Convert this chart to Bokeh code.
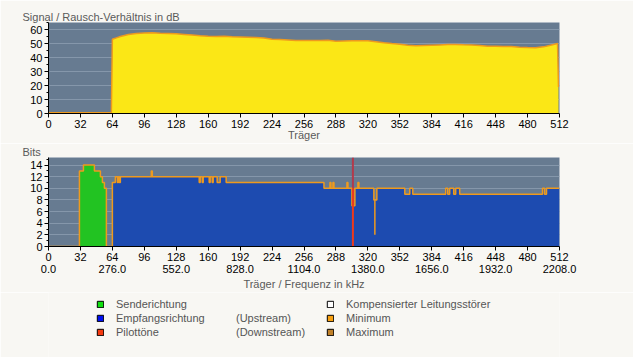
from bokeh.plotting import figure
from bokeh.layouts import column
from bokeh.models import (Range1d, FixedTicker, SingleIntervalTicker, LinearAxis,
                          Legend, LegendItem, Span, Div)
from bokeh.embed import file_html
from bokeh.resources import INLINE
import numpy as np

FONT = "Liberation Sans"
PAGE_BG = "#f8f7f3"
PLOT_BG = "#677b91"
GRID = "#8597ab"

# ---------------- data ----------------
carrier_ticks = [0, 32, 64, 96, 128, 160, 192, 224, 256, 288, 320, 352, 384, 416, 448, 480, 512]
freq_ticks = [0, 64, 128, 192, 256, 320, 384, 448, 512]
freq_labels = ["0.0", "276.0", "552.0", "828.0", "1104.0", "1380.0", "1656.0", "1932.0", "2208.0"]

# Signal / noise ratio (dB) per carrier
snr_carrier = [0, 63, 64, 68, 72, 80, 88, 96, 104, 112, 120, 128, 136, 144, 152, 160, 168, 176,
               184, 192, 200, 208, 216, 224, 232, 240, 248, 256, 264, 272, 280, 288, 296, 304,
               312, 320, 328, 336, 344, 352, 360, 368, 376, 384, 392, 400, 408, 416, 424, 432,
               440, 448, 456, 464, 472, 480, 488, 496, 504, 510, 511]
snr_db = [0.6, 0.6, 53.0, 54.0, 55.0, 56.5, 57.2, 57.5, 57.7, 57.3, 57.2, 57.0, 56.5, 56.0, 55.5,
          55.2, 55.0, 55.2, 54.8, 54.6, 54.4, 54.2, 54.0, 53.0, 52.8, 52.5, 52.2, 52.1, 52.1, 52.2,
          52.3, 51.6, 51.8, 52.0, 52.0, 51.9, 51.3, 50.6, 50.0, 49.5, 48.8, 48.4, 48.6, 48.8, 49.0,
          49.2, 49.3, 49.1, 49.0, 48.6, 48.1, 48.0, 47.9, 47.9, 47.4, 47.1, 47.0, 47.6, 49.0, 50.0, 19.0]

# Bits per carrier as steps: value holds from this carrier to the next start
bits_start = [0, 31, 35, 46, 52, 54, 56, 58, 64, 67, 69, 70, 71, 72, 103, 104, 151, 152, 154, 155,
              161, 162, 164, 165, 169, 172, 178, 276, 282, 283, 285, 286, 299, 300, 304, 307, 310,
              311, 326, 329, 357, 362, 365, 398, 400, 402, 406, 408, 412, 495, 497, 499, 511]
bits_value = [0, 13, 14, 13, 12, 11, 10, 0, 11, 12, 11, 12, 11, 12, 13, 12, 11, 12, 11, 12,
              11, 12, 11, 12, 11, 12, 11, 10, 11, 10, 11, 10, 11, 10, 7, 10, 11,
              10, 8, 10, 9, 10, 9, 10, 9, 10, 9, 10, 9, 10, 9, 10, 10]
carrier_end = 512
downstream_first = 64

pilot_carrier = [305]
pilot_bits = [10]
min_dip_carrier = [327]
min_dip_value = [2]

# -------------- helpers --------------
def style_axis(ax):
    ax.axis_line_color = "black"
    ax.major_tick_line_color = "black"
    ax.minor_tick_line_color = "black"
    ax.major_tick_in = 0
    ax.major_tick_out = 4
    ax.minor_tick_in = 0
    ax.minor_tick_out = 2
    ax.major_label_text_font = FONT
    ax.major_label_text_font_size = "11px"
    ax.major_label_text_color = "black"
    ax.axis_label_text_font = FONT
    ax.axis_label_text_font_size = "11px"
    ax.axis_label_text_color = "#5a5a5a"
    ax.axis_label_text_font_style = "normal"
    ax.major_label_standoff = 2
    ax.axis_label_standoff = -2


def base_fig(height, top, bottom, y_max, y_interval, title):
    p = figure(width=633, height=height, x_range=Range1d(0, 512), y_range=Range1d(0, y_max),
               output_backend="svg", toolbar_location=None, title=title,
               min_border_left=48, min_border_right=74, min_border_top=top, min_border_bottom=bottom)
    p.background_fill_color = PLOT_BG
    p.border_fill_color = PAGE_BG
    p.outline_line_color = None
    p.xgrid.grid_line_color = None
    p.ygrid.grid_line_color = GRID
    p.yaxis.ticker = SingleIntervalTicker(interval=y_interval, num_minor_ticks=2)
    p.xaxis.ticker = FixedTicker(ticks=carrier_ticks)
    for ax in p.xaxis + p.yaxis:
        style_axis(ax)
    p.xaxis.minor_tick_line_color = None
    p.title.text_font = FONT
    p.title.text_font_size = "11px"
    p.title.text_font_style = "normal"
    p.title.text_color = "#5a5a5a"
    p.title.align = "left"
    p.title.offset = -26
    p.title.standoff = 0
    return p

# -------------- SNR chart --------------
p1 = base_fig(143, 22, 30, 65, 10, "Signal / Rausch-Verhältnis in dB")
p1.xaxis.axis_label = "Träger"
p1.varea(x=snr_carrier, y1=0, y2=snr_db, fill_color="#fbe716")
p1.line(x=snr_carrier, y=snr_db, line_color="#ee9a1e", line_width=1.5)

# -------------- Bits chart --------------
p2 = base_fig(149, 14, 44, 15.3, 2, "Bits")

starts = np.array(bits_start, dtype=float)
vals = np.array(bits_value, dtype=float)
us = starts < downstream_first
ds = ~us
xs_us = np.append(starts[us], downstream_first)
ys_us = np.append(vals[us], vals[us][-1])
xs_ds = np.append(starts[ds], carrier_end)
ys_ds = np.append(vals[ds], vals[ds][-1])
xs_all = np.append(starts, carrier_end)
ys_all = np.append(vals, vals[-1])

p2.add_layout(Span(location=pilot_carrier[0], dimension="height", line_color="#b23a4c",
                   line_width=2, level="underlay"))
p2.varea_step(x=xs_us, y1=0, y2=ys_us, step_mode="after", fill_color="#22c322")
p2.varea_step(x=xs_ds, y1=0, y2=ys_ds, step_mode="after", fill_color="#1d4bb0")
p2.step(x=xs_all, y=ys_all, mode="after", line_color="#ee9a1e", line_width=1.5)
dip_top = [vals[np.searchsorted(starts, c, side="right") - 1] for c in min_dip_carrier]
p2.segment(x0=min_dip_carrier, y0=min_dip_value, x1=min_dip_carrier, y1=dip_top,
           line_color="#ee9a1e", line_width=1.5)
p2.segment(x0=pilot_carrier, y0=[0] * len(pilot_carrier), x1=pilot_carrier, y1=pilot_bits,
           line_color="#ee3a1c", line_width=2)

freq_axis = LinearAxis(ticker=FixedTicker(ticks=freq_ticks),
                       major_label_overrides={t: l for t, l in zip(freq_ticks, freq_labels)})
style_axis(freq_axis)
freq_axis.axis_line_color = None
freq_axis.major_tick_line_color = None
freq_axis.minor_tick_line_color = None
freq_axis.major_tick_out = 0
freq_axis.major_label_standoff = 1
freq_axis.axis_label_standoff = 2
freq_axis.axis_label = "Träger / Frequenz in kHz"
p2.add_layout(freq_axis, "below")

# -------------- legend --------------
lf = figure(width=633, height=65, x_range=Range1d(0, 633), y_range=Range1d(0, 65),
            output_backend="svg", toolbar_location=None, min_border=0,
            min_border_left=48, min_border_right=74,
            x_axis_location=None, y_axis_location=None)
lf.outline_line_color = None
lf.background_fill_color = PAGE_BG
lf.border_fill_color = PAGE_BG
lf.grid.visible = False


def dummy(color, alpha=1.0):
    nan = [np.nan]
    return lf.quad(left=nan, right=nan, top=nan, bottom=nan, fill_color=color, fill_alpha=alpha,
                   line_color="black", line_alpha=alpha, line_width=1)


def make_legend(items, x, glyph_w, standoff):
    lg = Legend(items=items, location=(x, 18), orientation="vertical", padding=0, margin=0,
                spacing=0, glyph_width=glyph_w, glyph_height=8, label_height=14,
                label_standoff=standoff, border_line_color=None, background_fill_alpha=0,
                label_text_font=FONT, label_text_font_size="11px", label_text_color="#555555")
    lf.add_layout(lg)


make_legend([LegendItem(label="Senderichtung", renderers=[dummy("#10e010")]),
             LegendItem(label="Empfangsrichtung", renderers=[dummy("#0010f0")]),
             LegendItem(label="Pilottöne", renderers=[dummy("#f53a10")])], 48, 8, 12)
make_legend([LegendItem(label="(Upstream)", renderers=[dummy("white", 0)]),
             LegendItem(label="(Downstream)", renderers=[dummy("white", 0)])], 188, 0, 0)
make_legend([LegendItem(label="Kompensierter Leitungsstörer", renderers=[dummy("white")]),
             LegendItem(label="Minimum", renderers=[dummy("#f8a010")]),
             LegendItem(label="Maximum", renderers=[dummy("#c08028")])], 278, 8, 12)

rule = Div(width=633, height=1, styles={"background-color": "#a3b1ad"})
pad = Div(width=633, height=4, styles={"background-color": PAGE_BG})

layout = column(p1, p2, lf, rule, pad, spacing=0)
open("out.html", "w").write(file_html(layout, INLINE))
